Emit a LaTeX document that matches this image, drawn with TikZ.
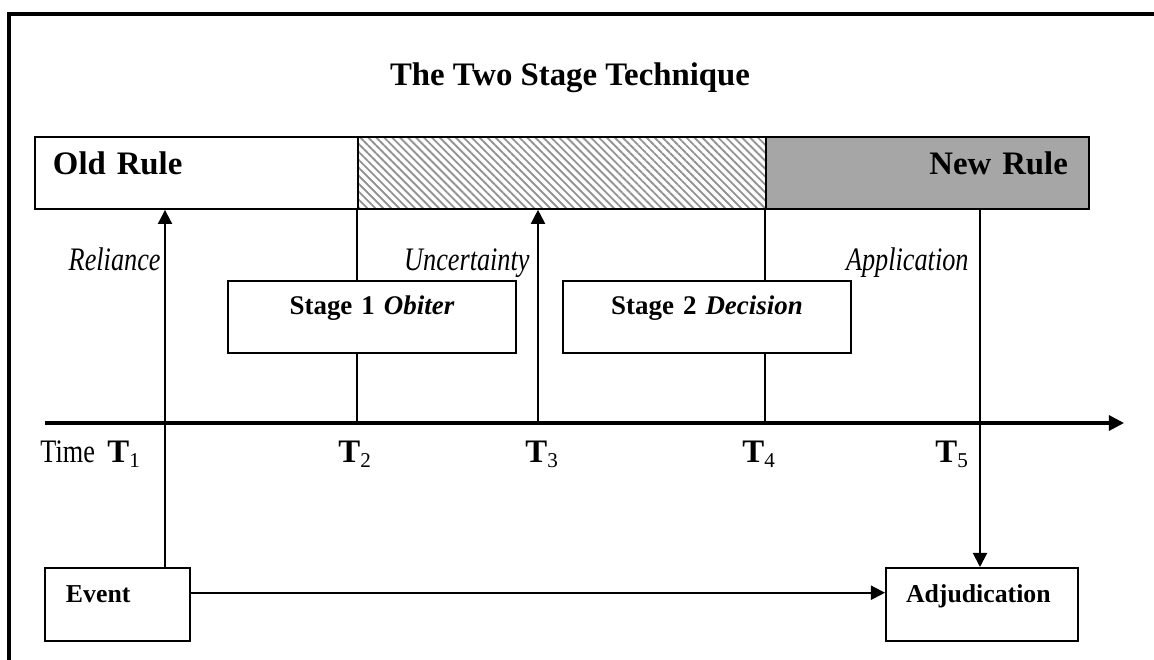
\documentclass[tikz,border=0pt]{standalone}
\usepackage{fontspec}
\setmainfont{Liberation Serif}
\newfontfamily\narrowserif{Liberation Serif}[FakeStretch=0.8]
\usepackage{tikz}
\usetikzlibrary{arrows.meta, patterns.meta}

\newcommand{\timemark}[1]{T\raisebox{-2.5pt}{\fontsize{9}{11}\selectfont\mdseries #1}}

\begin{document}
\begin{tikzpicture}[
  x=0.015cm, y=-0.015cm,
  rulebox/.style={draw, line width=0.85pt, inner ysep=0pt, text height=16.2pt, text depth=14.5pt,
                  font=\fontsize{14}{17}\selectfont\bfseries},
  stagebox/.style={draw, fill=white, line width=0.85pt, inner sep=0pt, text width=4.32cm, align=center,
                   text height=14.1pt, text depth=16.6pt, font=\fontsize{11.5}{14}\selectfont\bfseries},
  endbox/.style={draw, line width=0.85pt, inner ysep=0pt, align=left, text height=14.9pt, text depth=16.2pt,
                 font=\fontsize{11}{13}\selectfont\bfseries},
  lbl/.style={inner sep=0pt, font=\fontsize{14}{17}\selectfont\narrowserif\itshape},
  tlab/.style={inner sep=0pt, font=\fontsize{14}{17}\selectfont\bfseries},
  arr/.style={-{Triangle[length=6pt, width=6pt]}, line width=0.85pt},
  vline/.style={line width=0.85pt},
  timeline/.style={-{Triangle[length=6.5pt, width=6.5pt]}, line width=1.3pt},
]
\useasboundingbox (0,0) rectangle (1154,660);

% Frame
\draw[line width=1.7pt] (9,660) -- (9,14) -- (1154,14);

% Title
\node[anchor=base, inner sep=0pt, font=\fontsize{14}{17}\selectfont\bfseries] (title) at (570,85) {The Two Stage Technique};

% Rule bar
\node[rulebox, anchor=north west, inner xsep=7.68pt, text width=122.5pt, align=left] (oldrule) at (34,136) {Old Rule};
\node[rulebox, anchor=north west, inner xsep=0pt, minimum width=6.12cm,
      pattern={Lines[angle=-45, distance=2.4pt, line width=0.8pt]}, pattern color=gray!85] (uncert) at (357,136) {};
\node[rulebox, anchor=north west, fill=black!35, inner xsep=8.96pt, text width=119.9pt, align=right] (newrule) at (765,136) {New Rule};

% Stages
\node[stagebox, anchor=north west] (stage1) at (227,280) {Stage 1 \textit{Obiter}};
\node[stagebox, anchor=north west] (stage2) at (562,280) {Stage 2 \textit{Decision}};

% Event and adjudication
\node[endbox, anchor=north west, inner xsep=8.96pt, text width=43.96pt] (event) at (44,567) {Event};
\node[endbox, anchor=north west, inner xsep=8.54pt, text width=64.86pt] (adjud) at (885,567) {Adjudication};

% Time axis
\coordinate (tstart) at (45,423);
\coordinate (tend) at (1124,423);
\coordinate (t1) at (165,423);
\coordinate (t2) at (357,423);
\coordinate (t3) at (538,423);
\coordinate (t4) at (765,423);
\coordinate (t5) at (980,423);
\draw[timeline] (tstart) -- (tend);

\node[inner sep=0pt, anchor=base west, font=\fontsize{14}{17}\selectfont\narrowserif] (time) at (40,462) {Time};
\node[tlab, anchor=base west] (tl1) at (107,462) {\timemark{1}};
\node[tlab, anchor=base west] (tl2) at (338,462) {\timemark{2}};
\node[tlab, anchor=base west] (tl3) at (525,462) {\timemark{3}};
\node[tlab, anchor=base west] (tl4) at (742,462) {\timemark{4}};
\node[tlab, anchor=base west] (tl5) at (935,462) {\timemark{5}};

% Labels
\node[lbl, anchor=base east] (reliance) at (161,270) {Reliance};
\node[lbl, anchor=base east] (uncertainty) at (530,270) {Uncertainty};
\node[lbl, anchor=base east] (application) at (969,270) {Application};

% Connectors
\draw[arr] (event.north -| t1) -- (oldrule.south -| t1);
\draw[vline] (oldrule.south -| t2) -- (stage1.north -| t2);
\draw[vline] (stage1.south -| t2) -- (t2);
\draw[arr] (t3) -- (uncert.south -| t3);
\draw[vline] (newrule.south -| t4) -- (stage2.north -| t4);
\draw[vline] (stage2.south -| t4) -- (t4);
\draw[arr] (newrule.south -| t5) -- (adjud.north -| t5);
\draw[arr] ([yshift=5pt]event.east) -- ([yshift=5pt]adjud.west);

\end{tikzpicture}
\end{document}
